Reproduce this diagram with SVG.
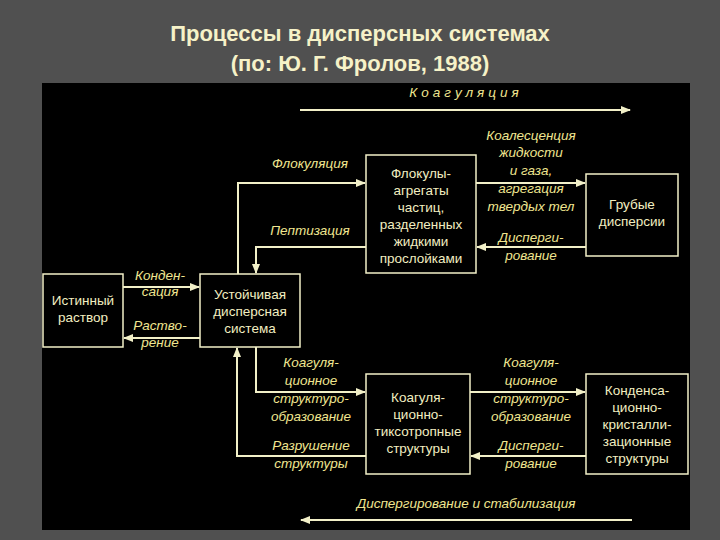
<svg xmlns="http://www.w3.org/2000/svg" width="720" height="540" viewBox="0 0 720 540">
<defs>
<style>
.box{fill:#000;stroke:#f2f0c8;stroke-width:1.5}
.bt{font-family:"Liberation Sans",Arial,sans-serif;font-size:13.5px;fill:#f2eec0;text-anchor:middle}
.lb{font-family:"Liberation Sans",Arial,sans-serif;font-size:13.5px;font-style:italic;fill:#f0e690;text-anchor:middle}
.ln{fill:none;stroke:#f2f0c8;stroke-width:2}
.ti{font-family:"Liberation Sans",Arial,sans-serif;font-size:22px;font-weight:bold;fill:#f6f2c8;text-anchor:middle}
</style>
<marker id="ar" viewBox="0 0 10 10" refX="9" refY="5" markerWidth="5" markerHeight="5" orient="auto"><path d="M0,1 L10,5 L0,9 z" fill="#f2f0c8"/></marker>
</defs>
<rect width="720" height="540" fill="#505050"/>
<text class="ti" x="360" y="41">Процессы в дисперсных системах</text>
<text class="ti" x="360" y="71">(по: Ю. Г. Фролов, 1988)</text>
<rect x="42" y="83" width="648" height="447" fill="#000"/>
<g id="connectors">
<path class="ln" d="M300,110 H630" marker-end="url(#ar)"/>
<path class="ln" d="M238,274 V183 H365" marker-end="url(#ar)"/>
<path class="ln" d="M366,247 H256 V273" marker-end="url(#ar)"/>
<path class="ln" d="M123,287 H199" marker-end="url(#ar)"/>
<path class="ln" d="M200,338 H124" marker-end="url(#ar)"/>
<path class="ln" d="M476,183 H585" marker-end="url(#ar)"/>
<path class="ln" d="M586,247 H477" marker-end="url(#ar)"/>
<path class="ln" d="M256,347 V392 H365" marker-end="url(#ar)"/>
<path class="ln" d="M366,456 H237 V348" marker-end="url(#ar)"/>
<path class="ln" d="M470,392 H585" marker-end="url(#ar)"/>
<path class="ln" d="M586,456 H471" marker-end="url(#ar)"/>
<path class="ln" d="M632,520 H301" marker-end="url(#ar)"/>
</g>
<g id="labels">
<text class="lb" x="466" y="97" letter-spacing="4">Коагуляция</text>
<text class="lb" x="310" y="168">Флокуляция</text>
<text class="lb" x="310" y="235">Пептизация</text>
<text class="lb" x="160" y="280">Конден-</text>
<text class="lb" x="160" y="296">сация</text>
<text class="lb" x="160" y="330">Раство-</text>
<text class="lb" x="160" y="347">рение</text>
<text class="lb" x="531" y="140">Коалесценция</text>
<text class="lb" x="531" y="157">жидкости</text>
<text class="lb" x="531" y="175">и газа,</text>
<text class="lb" x="531" y="193">агрегация</text>
<text class="lb" x="531" y="211">твердых тел</text>
<text class="lb" x="531" y="242">Дисперги-</text>
<text class="lb" x="531" y="260">рование</text>
<text class="lb" x="311" y="367">Коагуля-</text>
<text class="lb" x="311" y="385">ционное</text>
<text class="lb" x="311" y="403">структуро-</text>
<text class="lb" x="311" y="421">образование</text>
<text class="lb" x="311" y="450">Разрушение</text>
<text class="lb" x="311" y="468">структуры</text>
<text class="lb" x="531" y="367">Коагуля-</text>
<text class="lb" x="531" y="385">ционное</text>
<text class="lb" x="531" y="403">структуро-</text>
<text class="lb" x="531" y="421">образование</text>
<text class="lb" x="531" y="450">Дисперги-</text>
<text class="lb" x="531" y="468">рование</text>
<text class="lb" x="466" y="508">Диспергирование и стабилизация</text>
</g>
<g id="n1"><rect class="box" x="43" y="274" width="80" height="73"/><text class="bt" x="83" y="305">Истинный</text><text class="bt" x="83" y="322">раствор</text></g>
<g id="n2"><rect class="box" x="200" y="274" width="100" height="73"/><text class="bt" x="250" y="299">Устойчивая</text><text class="bt" x="250" y="316">дисперсная</text><text class="bt" x="250" y="333">система</text></g>
<g id="n3"><rect class="box" x="366" y="155" width="110" height="118"/><text class="bt" x="421" y="178">Флокулы-</text><text class="bt" x="421" y="195">агрегаты</text><text class="bt" x="421" y="212">частиц,</text><text class="bt" x="421" y="229">разделенных</text><text class="bt" x="421" y="246">жидкими</text><text class="bt" x="421" y="263">прослойками</text></g>
<g id="n4"><rect class="box" x="586" y="174" width="92" height="82"/><text class="bt" x="632" y="209">Грубые</text><text class="bt" x="632" y="226">дисперсии</text></g>
<g id="n5"><rect class="box" x="366" y="374" width="104" height="100"/><text class="bt" x="418" y="402">Коагуля-</text><text class="bt" x="418" y="419">ционно-</text><text class="bt" x="418" y="436">тиксотропные</text><text class="bt" x="418" y="453">структуры</text></g>
<g id="n6"><rect class="box" x="586" y="374" width="102" height="100"/><text class="bt" x="637" y="395">Конденса-</text><text class="bt" x="637" y="412">ционно-</text><text class="bt" x="637" y="429">кристалли-</text><text class="bt" x="637" y="446">зационные</text><text class="bt" x="637" y="463">структуры</text></g>
</svg>
